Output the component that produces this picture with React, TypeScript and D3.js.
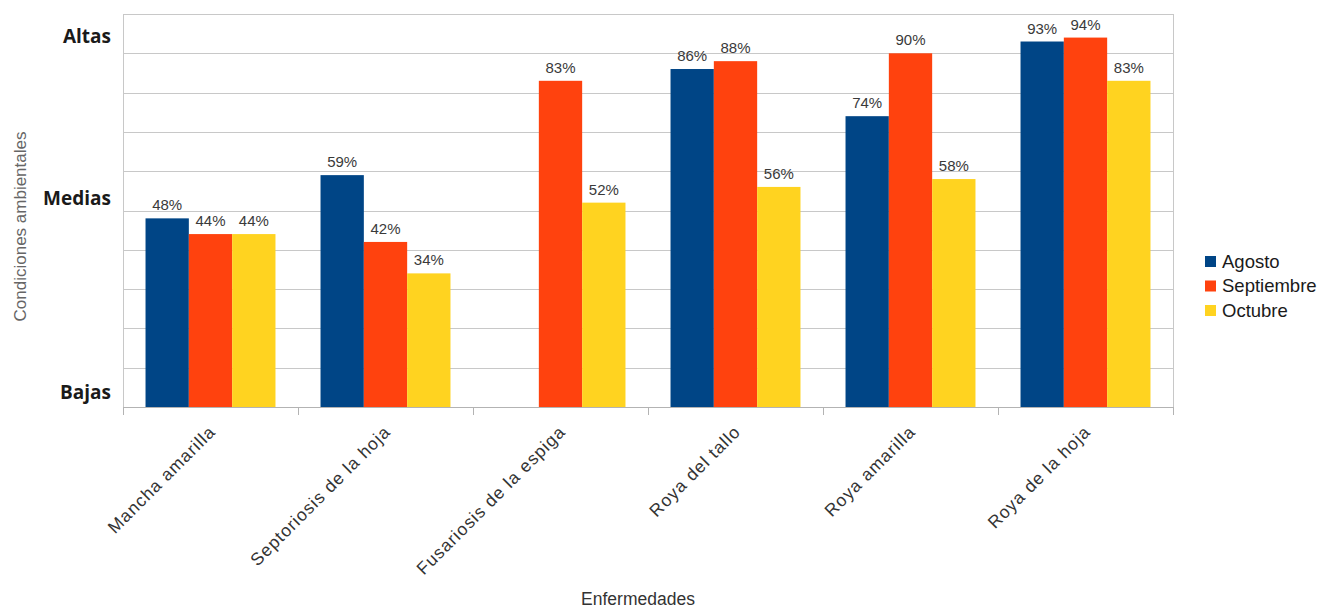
/**
 * Condiciones ambientales por enfermedad. Grouped bar chart (Agosto / Septiembre / Octubre).
 * LibreOffice-style look: grey grid every 10%, wall border, rotated category labels.
 */
import React, { useRef, useEffect } from 'react';
import * as d3 from 'd3';

const WIDTH = 1321;
const HEIGHT = 610;

const categories = [
  'Mancha amarilla',
  'Septoriosis de la hoja',
  'Fusariosis de la espiga',
  'Roya del tallo',
  'Roya amarilla',
  'Roya de la hoja',
];
const seriesNames = ['Agosto', 'Septiembre', 'Octubre'];
const seriesColors = ['#004586', '#ff420e', '#ffd320'];

// values per series, in category order (null = no bar)
const agosto = [48, 59, null, 86, 74, 93];
const septiembre = [44, 42, 83, 88, 90, 94];
const octubre = [44, 34, 52, 56, 58, 83];

const gridTicks = [0, 10, 20, 30, 40, 50, 60, 70, 80, 90, 100];
const levelLabels = ['Altas', 'Medias', 'Bajas'];
const levelValues = [92.6, 51.4, 2];

const M = { top: 14, right: 148, bottom: 203, left: 123 };

export default function App() {
  const svgRef = useRef<SVGSVGElement>(null);

  useEffect(() => {
    if (!svgRef.current) return;
    const svg = d3.select(svgRef.current);
    svg.selectAll('*').remove();

    const innerW = WIDTH - M.left - M.right;
    const innerH = HEIGHT - M.top - M.bottom;
    const series = [agosto, septiembre, octubre];

    const x0 = d3.scaleBand().domain(categories).range([0, innerW]).padding(0);
    const x1 = d3
      .scaleBand()
      .domain(seriesNames)
      .range([0, x0.bandwidth()])
      .paddingInner(0)
      .paddingOuter(0.52);
    const y = d3.scaleLinear().domain([0, 100]).range([innerH, 0]);

    const g = svg.append('g').attr('transform', `translate(${M.left}, ${M.top})`);

    // Grid lines
    g.selectAll('line.grid')
      .data(gridTicks)
      .join('line')
      .attr('class', 'grid')
      .attr('x1', 0)
      .attr('x2', innerW)
      .attr('y1', (d) => Math.round(y(d)) + 0.5)
      .attr('y2', (d) => Math.round(y(d)) + 0.5)
      .attr('stroke', '#c8c8c8')
      .attr('stroke-width', 1);

    // Wall border left / right
    [0, innerW].forEach((xx) => {
      g.append('line')
        .attr('x1', xx + 0.5)
        .attr('x2', xx + 0.5)
        .attr('y1', 0)
        .attr('y2', innerH)
        .attr('stroke', '#c8c8c8');
    });

    // Bars
    series.forEach((vals, si) => {
      const rows = categories.map((c, i) => ({ c, v: vals[i] })).filter((d) => d.v != null);

      g.selectAll(`rect.s${si}`)
        .data(rows)
        .join('rect')
        .attr('class', `s${si}`)
        .attr('x', (d) => (x0(d.c) ?? 0) + (x1(seriesNames[si]) ?? 0))
        .attr('y', (d) => y(d.v as number))
        .attr('width', x1.bandwidth())
        .attr('height', (d) => innerH - y(d.v as number))
        .attr('fill', seriesColors[si]);

      g.selectAll(`text.l${si}`)
        .data(rows)
        .join('text')
        .attr('class', `l${si}`)
        .attr('x', (d) => (x0(d.c) ?? 0) + (x1(seriesNames[si]) ?? 0) + x1.bandwidth() / 2)
        .attr('y', (d) => y(d.v as number) - 8)
        .attr('text-anchor', 'middle')
        .attr('fill', '#3a3a3a')
        .attr('font-size', '15px')
        .attr('font-family', 'Liberation Sans, Arial, sans-serif')
        .text((d) => `${d.v}%`);
    });

    // X axis line and boundary ticks
    g.append('line')
      .attr('x1', 0)
      .attr('x2', innerW)
      .attr('y1', innerH + 0.5)
      .attr('y2', innerH + 0.5)
      .attr('stroke', '#b3b3b3');
    const boundaries = categories.map((c) => x0(c) ?? 0).concat([innerW]);
    g.selectAll('line.tick')
      .data(boundaries)
      .join('line')
      .attr('class', 'tick')
      .attr('x1', (d) => d + 0.5)
      .attr('x2', (d) => d + 0.5)
      .attr('y1', innerH)
      .attr('y2', innerH + 8)
      .attr('stroke', '#b3b3b3');

    // Rotated category labels
    g.selectAll('text.cat')
      .data(categories)
      .join('text')
      .attr('class', 'cat')
      .attr(
        'transform',
        (d) => `translate(${(x0(d) ?? 0) + x0.bandwidth() / 2 + 6}, ${innerH + 26}) rotate(-45)`
      )
      .attr('text-anchor', 'end')
      .attr('fill', '#333333')
      .attr('font-size', '17.5px')
      .attr('letter-spacing', '1px')
      .attr('font-family', 'Liberation Sans, Arial, sans-serif')
      .text((d) => d);

    // Level labels on the y axis
    g.selectAll('text.level')
      .data(levelLabels)
      .join('text')
      .attr('class', 'level')
      .attr('x', -12)
      .attr('y', (d, i) => y(levelValues[i]))
      .attr('text-anchor', 'end')
      .attr('fill', '#1a1a1a')
      .attr('font-size', '19px')
      .attr('font-weight', 700)
      .attr('font-family', 'Open Sans, sans-serif')
      .text((d) => d);

    // Axis titles
    svg
      .append('text')
      .attr('transform', `translate(26, ${M.top + innerH / 2 + 16}) rotate(-90)`)
      .attr('text-anchor', 'middle')
      .attr('fill', '#666666')
      .attr('font-size', '17px')
      .attr('font-family', 'Liberation Sans, Arial, sans-serif')
      .text('Condiciones ambientales');

    svg
      .append('text')
      .attr('x', 638)
      .attr('y', 605)
      .attr('text-anchor', 'middle')
      .attr('fill', '#333333')
      .attr('font-size', '17.5px')
      .attr('font-family', 'Liberation Sans, Arial, sans-serif')
      .text('Enfermedades');

    // Legend
    const legend = svg.append('g').attr('transform', 'translate(1205, 256)');
    seriesNames.forEach((name, i) => {
      legend
        .append('rect')
        .attr('x', 0)
        .attr('y', i * 24.5)
        .attr('width', 11)
        .attr('height', 11)
        .attr('fill', seriesColors[i]);
      legend
        .append('text')
        .attr('x', 17)
        .attr('y', i * 24.5 + 11.5)
        .attr('fill', '#1a1a1a')
        .attr('font-size', '18.5px')
        .attr('font-family', 'Liberation Sans, Arial, sans-serif')
        .text(name);
    });
  }, []);

  return (
    <svg
      ref={svgRef}
      width={WIDTH}
      height={HEIGHT}
      style={{ position: 'absolute', left: 0, top: 0, background: '#ffffff' }}
    />
  );
}
